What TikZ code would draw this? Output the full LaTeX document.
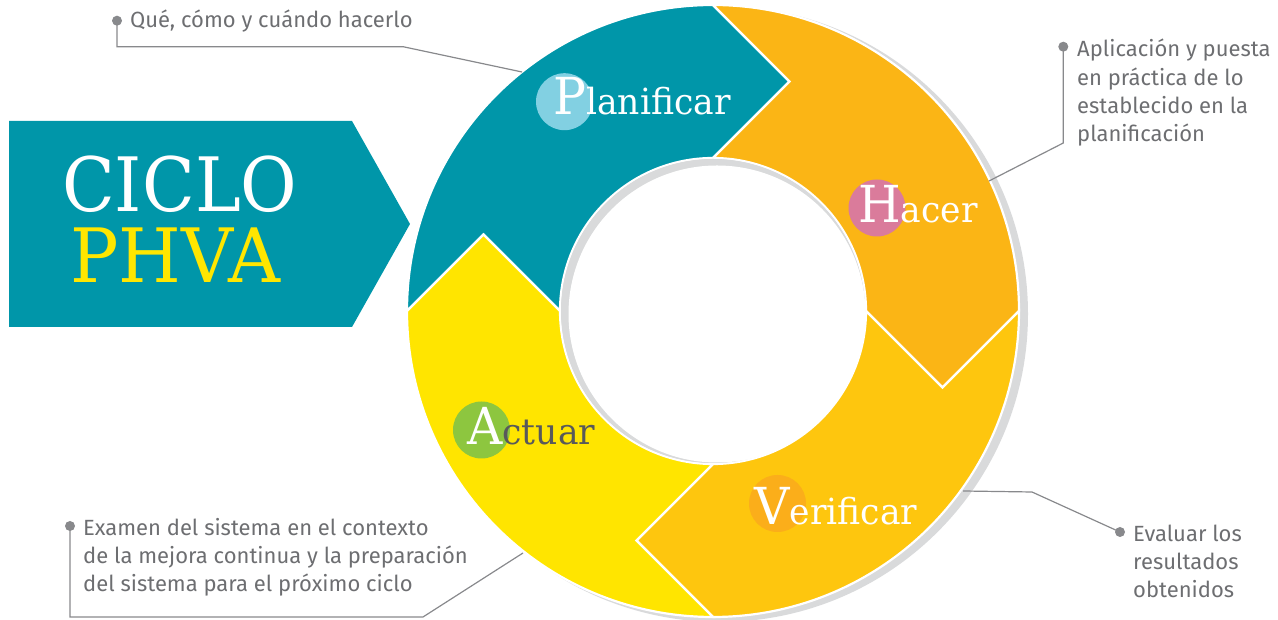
\documentclass[tikz,border=0pt]{standalone}
\usepackage{fontspec}
\setmainfont{Fira Sans}
\newfontfamily\slab[FakeStretch=0.96]{DejaVu Serif}
\newfontfamily\slabT[FakeStretch=0.92]{DejaVu Serif}
\usetikzlibrary{calc}
\definecolor{tealP}{HTML}{0096A9}
\definecolor{orangeH}{HTML}{FBB515}
\definecolor{orangeV}{HTML}{FEC60E}
\definecolor{yellowA}{HTML}{FFE500}
\definecolor{blueP}{HTML}{82D0E2}
\definecolor{pinkH}{HTML}{DA7B9B}
\definecolor{orangeC}{HTML}{FBAE1A}
\definecolor{greenA}{HTML}{8DC63F}
\definecolor{shadowgray}{HTML}{D9DADB}
\definecolor{txt}{HTML}{6D6E71}
\definecolor{lin}{HTML}{88898C}
\definecolor{yellowT}{HTML}{FFE600}
\definecolor{darkA}{HTML}{58595B}
\begin{document}
\begin{tikzpicture}[x=1pt,y=1pt,
  seg/.style={draw=white,line width=2.2pt,line join=miter},
  badge/.style={circle,inner sep=0pt,minimum size=57pt},
  word/.style={font=\slab\fontsize{36}{36}\selectfont,text=white,inner sep=0pt,anchor=base west},
  big/.style={font=\slab\fontsize{75}{75}\selectfont,inner sep=0pt,anchor=base west},
  lab/.style={font=\fontsize{22}{28.3}\selectfont,text=txt,align=left,inner sep=0pt,anchor=base west},
  leader/.style={draw=lin,line width=1.2pt},
  dot/.style={circle,fill=lin,inner sep=0pt,minimum size=10pt}]
\useasboundingbox (0,0) rectangle (1278,620);
\coordinate (C) at (713,309);
\def\R{306}\def\r{153}\def\m{229.5}\def\h{76.5}
\newcommand\capl[1]{{\fontsize{51}{51}\selectfont #1}}
% outer shadow
\fill[shadowgray] ($(C)+(7,-3)$) circle[radius=308];
% ring segments
\foreach \a/\b/\col in {180/90/tealP, 90/0/orangeH, 0/-90/orangeV, 270/180/yellowA}{
  \filldraw[seg,fill=\col] ($(C)+(\a:\R)$) arc[start angle=\a,end angle=\b,radius=\R]
    -- ($(C)+(\b:\m)+(\b-90:\h)$) -- ($(C)+(\b:\r)$)
    arc[start angle=\b,end angle=\a,radius=\r]
    -- ($(C)+(\a:\m)+(\a-90:\h)$) -- cycle;
}
% hole
\fill[shadowgray] (C) circle[radius=152];
\fill[white] ($(C)+(4,-3)$) circle[radius=148.5];

% badges and words
\node[badge,fill=blueP] (bP) at (564.5,518.3) {};
\node[word] (wP) at (553,505) {\capl{P}lanificar};
\node[badge,fill=pinkH] (bH) at (877,412) {};
\node[word] (wH) at (858,397) {\capl{H}acer};
\node[badge,fill=orangeC] (bV) at (777.5,116.5) {};
\node[word] (wV) at (754,95) {\capl{V}erificar};
\node[badge,fill=greenA] (bA) at (481.5,190) {};
\node[word] (wA) at (467,175) {\capl{A}\textcolor{darkA}{ctuar}};

% title arrow
\fill[tealP] (9,499) -- (352,499) -- (410,396) -- (352,293) -- (9,293) -- cycle;
\node[big,font=\slabT\fontsize{75}{75}\selectfont,text=white] (t1) at (62,408) {CICLO};
\node[big,text=yellowT] (t2) at (70,337) {PHVA};

% connectors
\coordinate (q2) at (403,573.3);
\coordinate (qE) at (522,548);
\coordinate (h2) at (1063.3,477);
\coordinate (hE) at (989,439);
\coordinate (vE) at (963,129);
\coordinate (v2) at (1032,128);
\coordinate (a2) at (423,3);
\coordinate (aE) at (523,67);
\coordinate (pQ) at (117,599.3);
\coordinate (pH) at (1063.3,573.3);
\coordinate (pV) at (1120,88);
\coordinate (pA) at (70,94);
\draw[leader] (pQ) |- (q2) -- (qE);
\draw[leader] (pH) -- (h2) -- (hE);
\draw[leader] (vE) -- (v2) -- (pV);
\draw[leader] (pA) |- (a2) -- (aE);
\node[dot] (dQ) at (pQ) {};
\node[dot] (dH) at (pH) {};
\node[dot] (dV) at (pV) {};
\node[dot] (dA) at (pA) {};

% labels (anchored at the baseline of their last line)
\node[lab] (lQ) at (130,592) {Qué, cómo y cuándo hacerlo};
\node[lab] (lH) at (1077,478.3) {Aplicación y puesta\\en práctica de lo\\establecido en la\\planificación};
\node[lab] (lV) at (1133,22) {Evaluar los\\resultados\\obtenidos};
\node[lab] (lA) at (83,28) {Examen del sistema en el contexto\\de la mejora continua y la preparación\\del sistema para el próximo ciclo};
\end{tikzpicture}
\end{document}
